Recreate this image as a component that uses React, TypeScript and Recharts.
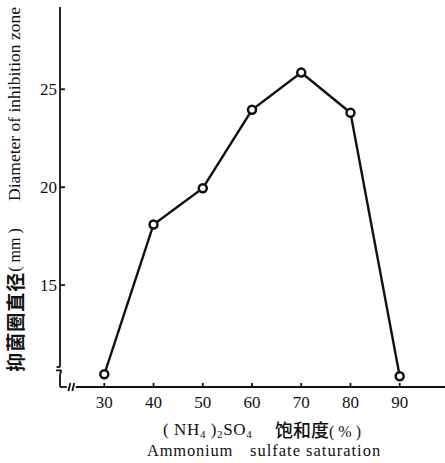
import React from 'react';
import { LineChart, Line, XAxis, YAxis, ReferenceLine, Customized } from 'recharts';

// ammonium sulfate saturation (%) vs inhibition zone diameter (mm)
const saturation = [30, 40, 50, 60, 70, 80, 90];
const diameter = [10.45, 18.1, 19.95, 23.95, 25.85, 23.8, 10.35];
const xTicks = [30, 40, 50, 60, 70, 80, 90];
const yTicks = [15, 20, 25];

const X_MIN = 21;
const X_MAX = 99.2;
const Y_MIN = 9.8;
const Y_MAX = 29.2;

const SERIF = '"Liberation Serif", "DejaVu Serif", serif';
const CJK = '"Noto Sans CJK SC", sans-serif';
const INK = '#111';

const data = saturation.map((x, i) => ({ x, y: diameter[i] }));

const XTick = (props: any) => {
  const { x, y, payload } = props;
  return (
    <g>
      <line x1={x} x2={x} y1={y} y2={y - 4} stroke={INK} strokeWidth={1.8} />
      <text x={x} y={y + 21} textAnchor="middle" fontFamily={SERIF} fontSize={17} fill={INK}>
        {payload.value}
      </text>
    </g>
  );
};

const YTick = (props: any) => {
  const { x, y, payload } = props;
  return (
    <g>
      <line x1={x} x2={x + 5} y1={y} y2={y} stroke={INK} strokeWidth={1.8} />
      <text x={x - 3} y={y} dy="0.35em" textAnchor="end" fontFamily={SERIF} fontSize={17} fill={INK}>
        {payload.value}
      </text>
    </g>
  );
};

const Titles = () => (
  <g fill={INK}>
    {/* y axis title, rotated */}
    <text
      x={14}
      y={300}
      transform="rotate(-90 14 300)"
      textAnchor="middle"
      dominantBaseline="central"
    >
      <tspan fontFamily={CJK} fontSize={19} fontWeight={700} letterSpacing={1}>抑菌圈直径</tspan>
      <tspan fontFamily={SERIF} fontSize={16}>( mm )</tspan>
    </text>
    <text
      x={14}
      y={104}
      transform="rotate(-90 14 104)"
      textAnchor="middle"
      dominantBaseline="central"
      fontFamily={SERIF}
      fontSize={17.5}
    >
      Diameter of inhibition zone
    </text>

    {/* x axis title */}
    <text x={163} y={435} fontFamily={SERIF} fontSize={17} letterSpacing={0.6}>
      ( NH<tspan fontSize={11} dy={3}>4</tspan>
      <tspan dy={-3}> )</tspan>
      <tspan fontSize={11} dy={3}>2</tspan>
      <tspan dy={-3}>SO</tspan>
      <tspan fontSize={11} dy={3}>4</tspan>
    </text>
    <text x={275} y={437} fontFamily={CJK} fontSize={18} fontWeight={500}>
      饱和度<tspan fontFamily={SERIF} fontSize={16}>( % )</tspan>
    </text>
    <text x={147} y={456} fontFamily={SERIF} fontSize={16.5} letterSpacing={0.8}>
      Ammonium
    </text>
    <text x={250} y={456} fontFamily={SERIF} fontSize={16.5} letterSpacing={1}>
      sulfate saturation
    </text>
  </g>
);

const seg = (x1: number, y1: number, x2: number, y2: number, key: string) => (
  <ReferenceLine
    key={key}
    segment={[{ x: x1, y: y1 }, { x: x2, y: y2 }]}
    stroke={INK}
    strokeWidth={1.8}
    ifOverflow="visible"
  />
);

export default function App() {
  return (
    <div style={{ position: 'absolute', left: 0, top: 0, background: '#fff' }}>
      <LineChart
        width={445}
        height={463}
        data={data}
        margin={{ top: 7, right: 0, bottom: 0, left: 0 }}
      >
        <XAxis
          type="number"
          dataKey="x"
          domain={[X_MIN, X_MAX]}
          ticks={xTicks}
          allowDataOverflow
          axisLine={false}
          tickLine={false}
          tickSize={0}
          tickMargin={0}
          height={76}
          tick={<XTick />}
        />
        <YAxis
          type="number"
          domain={[Y_MIN, Y_MAX]}
          ticks={yTicks}
          allowDataOverflow
          axisLine={false}
          tickLine={false}
          tickSize={0}
          tickMargin={0}
          width={60}
          tick={<YTick />}
        />
        {/* axes drawn by hand so the break marks fit */}
        {seg(X_MIN, 10.82, X_MIN, Y_MAX, 'yaxis')}
        {seg(20.3, 10.82, X_MIN, 10.82, 'yfoot')}
        {seg(20.2, 10.65, 21.3, 10.65, 'zTop')}
        {seg(21.3, 10.65, X_MIN, 10.45, 'zDiag')}
        {seg(X_MIN, 10.45, X_MIN, Y_MIN, 'lVert')}
        {seg(X_MIN, Y_MIN, 22.4, Y_MIN, 'lHorz')}
        {seg(22.7, 9.6, 23.1, 10.0, 'slash1')}
        {seg(23.5, 9.6, 23.9, 10.0, 'slash2')}
        {seg(24.2, Y_MIN, X_MAX, Y_MIN, 'xaxis')}
        <Line
          type="linear"
          dataKey="y"
          stroke={INK}
          strokeWidth={2.4}
          dot={{ r: 4, stroke: INK, strokeWidth: 2.5, fill: '#fff' }}
          isAnimationActive={false}
        />
        <Customized component={Titles} />
      </LineChart>
    </div>
  );
}
